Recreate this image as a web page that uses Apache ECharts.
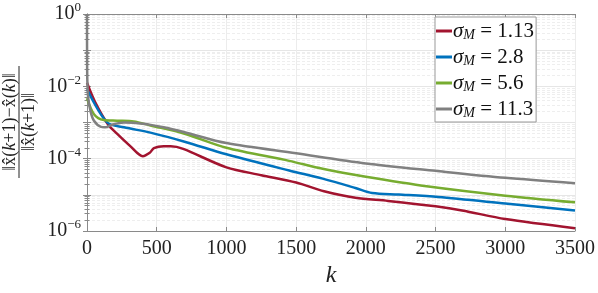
<!DOCTYPE html>
<html><head><meta charset="utf-8">
<script src="https://cdn.jsdelivr.net/npm/echarts@6/dist/echarts.min.js"></script>
<style>html,body{margin:0;padding:0;background:#fff}#c{width:598px;height:293px}</style>
</head><body><div id="c"></div>
<script>
const names = ['σM = 1.13', 'σM = 2.8', 'σM = 5.6', 'σM = 11.3'];
const legendValues = ['1.13', '2.8', '5.6', '11.3'];
const colors = ['#A2142F', '#0072BD', '#77AC30', '#808080'];

const redK = [0, 60, 150, 215, 312, 400, 450, 480, 550, 600, 690, 1000, 1250, 1500, 1700, 1925, 2160, 2500, 2690, 3000, 3500];
const redV = [1.26e-2, 3.55e-3, 8.9e-4, 4.9e-4, 2.19e-4, 1.17e-4, 1.45e-4, 1.95e-4, 2.19e-4, 2.19e-4, 1.86e-4, 5.75e-5, 3.5e-5, 2.19e-5, 1.26e-5, 8.3e-6, 6.8e-6, 4.8e-6, 3.7e-6, 2.14e-6, 1.2e-6];

const blueK = [0, 145, 265, 455, 700, 1000, 1450, 1690, 1925, 2045, 2236, 2520, 3000, 3500];
const blueV = [8.3e-3, 1.0e-3, 7.4e-4, 5.25e-4, 2.95e-4, 1.32e-4, 4.7e-5, 2.8e-5, 1.55e-5, 1.12e-5, 1.02e-5, 8.7e-6, 5.75e-6, 3.7e-6];

const greenK = [0, 50, 120, 215, 335, 455, 700, 1000, 1450, 1690, 2000, 2450, 3000, 3500];
const greenV = [4.7e-3, 1.7e-3, 1.17e-3, 1.12e-3, 1.07e-3, 8.3e-4, 4.9e-4, 2.0e-4, 8.7e-5, 5.25e-5, 3.16e-5, 1.7e-5, 9.5e-6, 6.2e-6];

const greyK = [0, 1, 8, 26, 50, 100, 133, 180, 265, 400, 550, 700, 1000, 1500, 2000, 2500, 3000, 3500];
const greyV = [1, 3.0e-2, 5.0e-3, 2.0e-3, 1.12e-3, 7.6e-4, 7.4e-4, 8.7e-4, 1.0e-3, 9.3e-4, 7.4e-4, 5.4e-4, 2.7e-4, 1.41e-4, 7.4e-5, 4.6e-5, 2.95e-5, 2.1e-5];

const xTicks = [0, 500, 1000, 1500, 2000, 2500, 3000, 3500];
const yLabelExps = [0, -2, -4, -6];

const allK = [redK, blueK, greenK, greyK];
const allV = [redV, blueV, greenV, greyV];

const FONT = 'Liberation Serif';
const chart = echarts.init(document.getElementById('c'));

const series = names.map((n, i) => ({
  name: n, type: 'line', showSymbol: false, symbol: 'none',
  smooth: 0.3,
  lineStyle: { color: colors[i], width: 2.5 },
  itemStyle: { color: colors[i] },
  data: allK[i].map((k, j) => [k, allV[i][j]]),
  z: 3 + i
}));

const fracRich = {
  r: { fontFamily: FONT, fontSize: 18, fill: '#222' },
  i: { fontFamily: FONT, fontSize: 18, fontStyle: 'italic', fill: '#222' }
};

const axisGrey = '#8a8a8a';
chart.setOption({
  animation: false,
  grid: { left: 87, right: 21, top: 14, bottom: 54 },
  legend: {
    left: 435, top: 17, orient: 'vertical',
    backgroundColor: '#fff', borderColor: '#999', borderWidth: 1,
    padding: [3, 2, 2, 1], itemGap: 4, itemWidth: 16, itemHeight: 3, icon: 'rect',
    data: names,
    formatter: function (n) { const i = names.indexOf(n); return '{s|σ}{m|M}{t| = ' + legendValues[i] + '}'; },
    textStyle: {
      fontFamily: FONT, color: '#111', padding: [0, 0, 0, -4],
      rich: {
        s: { fontFamily: FONT, fontStyle: 'italic', fontSize: 21, lineHeight: 22, color: '#111' },
        m: { fontFamily: FONT, fontStyle: 'italic', fontSize: 14, lineHeight: 22, color: '#111', padding: [8, 0, 0, 0] },
        t: { fontFamily: FONT, fontSize: 21, lineHeight: 22, color: '#111' }
      }
    }
  },
  xAxis: [{
    type: 'value', min: 0, max: 3500, interval: 500,
    axisLine: { show: true, lineStyle: { color: axisGrey, width: 1 } },
    axisTick: { show: true, inside: true, length: 4, lineStyle: { color: axisGrey } },
    axisLabel: { fontFamily: FONT, fontSize: 20, color: '#222', margin: 8,
      formatter: v => xTicks.indexOf(v) >= 0 ? String(v) : '' },
    splitLine: { show: true, lineStyle: { color: '#ececec', width: 1 } },
    name: 'k', nameLocation: 'middle', nameGap: 33,
    nameTextStyle: { fontFamily: FONT, fontStyle: 'italic', fontSize: 24, color: '#222' }
  }, {
    type: 'value', min: 0, max: 3500, interval: 500, position: 'top',
    axisLine: { show: true, lineStyle: { color: axisGrey, width: 1 } },
    axisTick: { show: true, inside: true, length: 4, lineStyle: { color: axisGrey } },
    axisLabel: { show: false }, splitLine: { show: false }
  }],
  yAxis: [{
    type: 'log', logBase: 10, min: 1e-6, max: 1, splitNumber: 6,
    axisLine: { show: true, lineStyle: { color: axisGrey, width: 1 } },
    axisTick: { show: true, inside: true, length: 4, lineStyle: { color: axisGrey } },
    minorTick: { show: true, splitNumber: 9, length: 2.5, lineStyle: { color: axisGrey } },
    minorSplitLine: { show: true, lineStyle: { color: '#eeeeee', type: [3, 2], width: 1 } },
    splitLine: { show: true, lineStyle: { color: '#e6e6e6', width: 1 } },
    axisLabel: {
      margin: 6, fontFamily: FONT,
      formatter: function (v) {
        const e = Math.round(Math.log10(v));
        if (yLabelExps.indexOf(e) < 0) return '';
        return '{b|10}{e|' + (e < 0 ? '\u2212' + (-e) : String(e)) + '}';
      },
      rich: {
        b: { fontFamily: FONT, fontSize: 20, color: '#222', lineHeight: 22 },
        e: { fontFamily: FONT, fontSize: 13, color: '#222', lineHeight: 22, padding: [0, 0, 12, 0] }
      }
    }
  }, {
    type: 'log', logBase: 10, min: 1e-6, max: 1, splitNumber: 6, position: 'right',
    axisLine: { show: true, lineStyle: { color: axisGrey, width: 1 } },
    axisTick: { show: true, inside: true, length: 4, lineStyle: { color: axisGrey } },
    minorTick: { show: true, splitNumber: 9, length: 2.5, lineStyle: { color: axisGrey } },
    axisLabel: { show: false }, splitLine: { show: false }
  }],
  graphic: [{
    type: 'group', x: 19, y: 122, rotation: Math.PI / 2,
    children: [
      { type: 'text', x: 0, y: 0, style: { text: '{r|\u2016x\u0302(}{i|k}{r|+1)\u2212x\u0302(}{i|k}{r|)\u2016}', rich: fracRich, fontFamily: FONT, fontSize: 18, fill: '#222', align: 'center', verticalAlign: 'bottom' } },
      { type: 'line', shape: { x1: -56, y1: 0, x2: 56, y2: 0 }, style: { stroke: '#222', lineWidth: 1 } },
      { type: 'text', x: 0, y: 1, style: { text: '{r|\u2016x\u0302(}{i|k}{r|+1)\u2016}', rich: fracRich, fontFamily: FONT, fontSize: 18, fill: '#222', align: 'center', verticalAlign: 'top' } }
    ]
  }],
  series: series
});
</script></body></html>
